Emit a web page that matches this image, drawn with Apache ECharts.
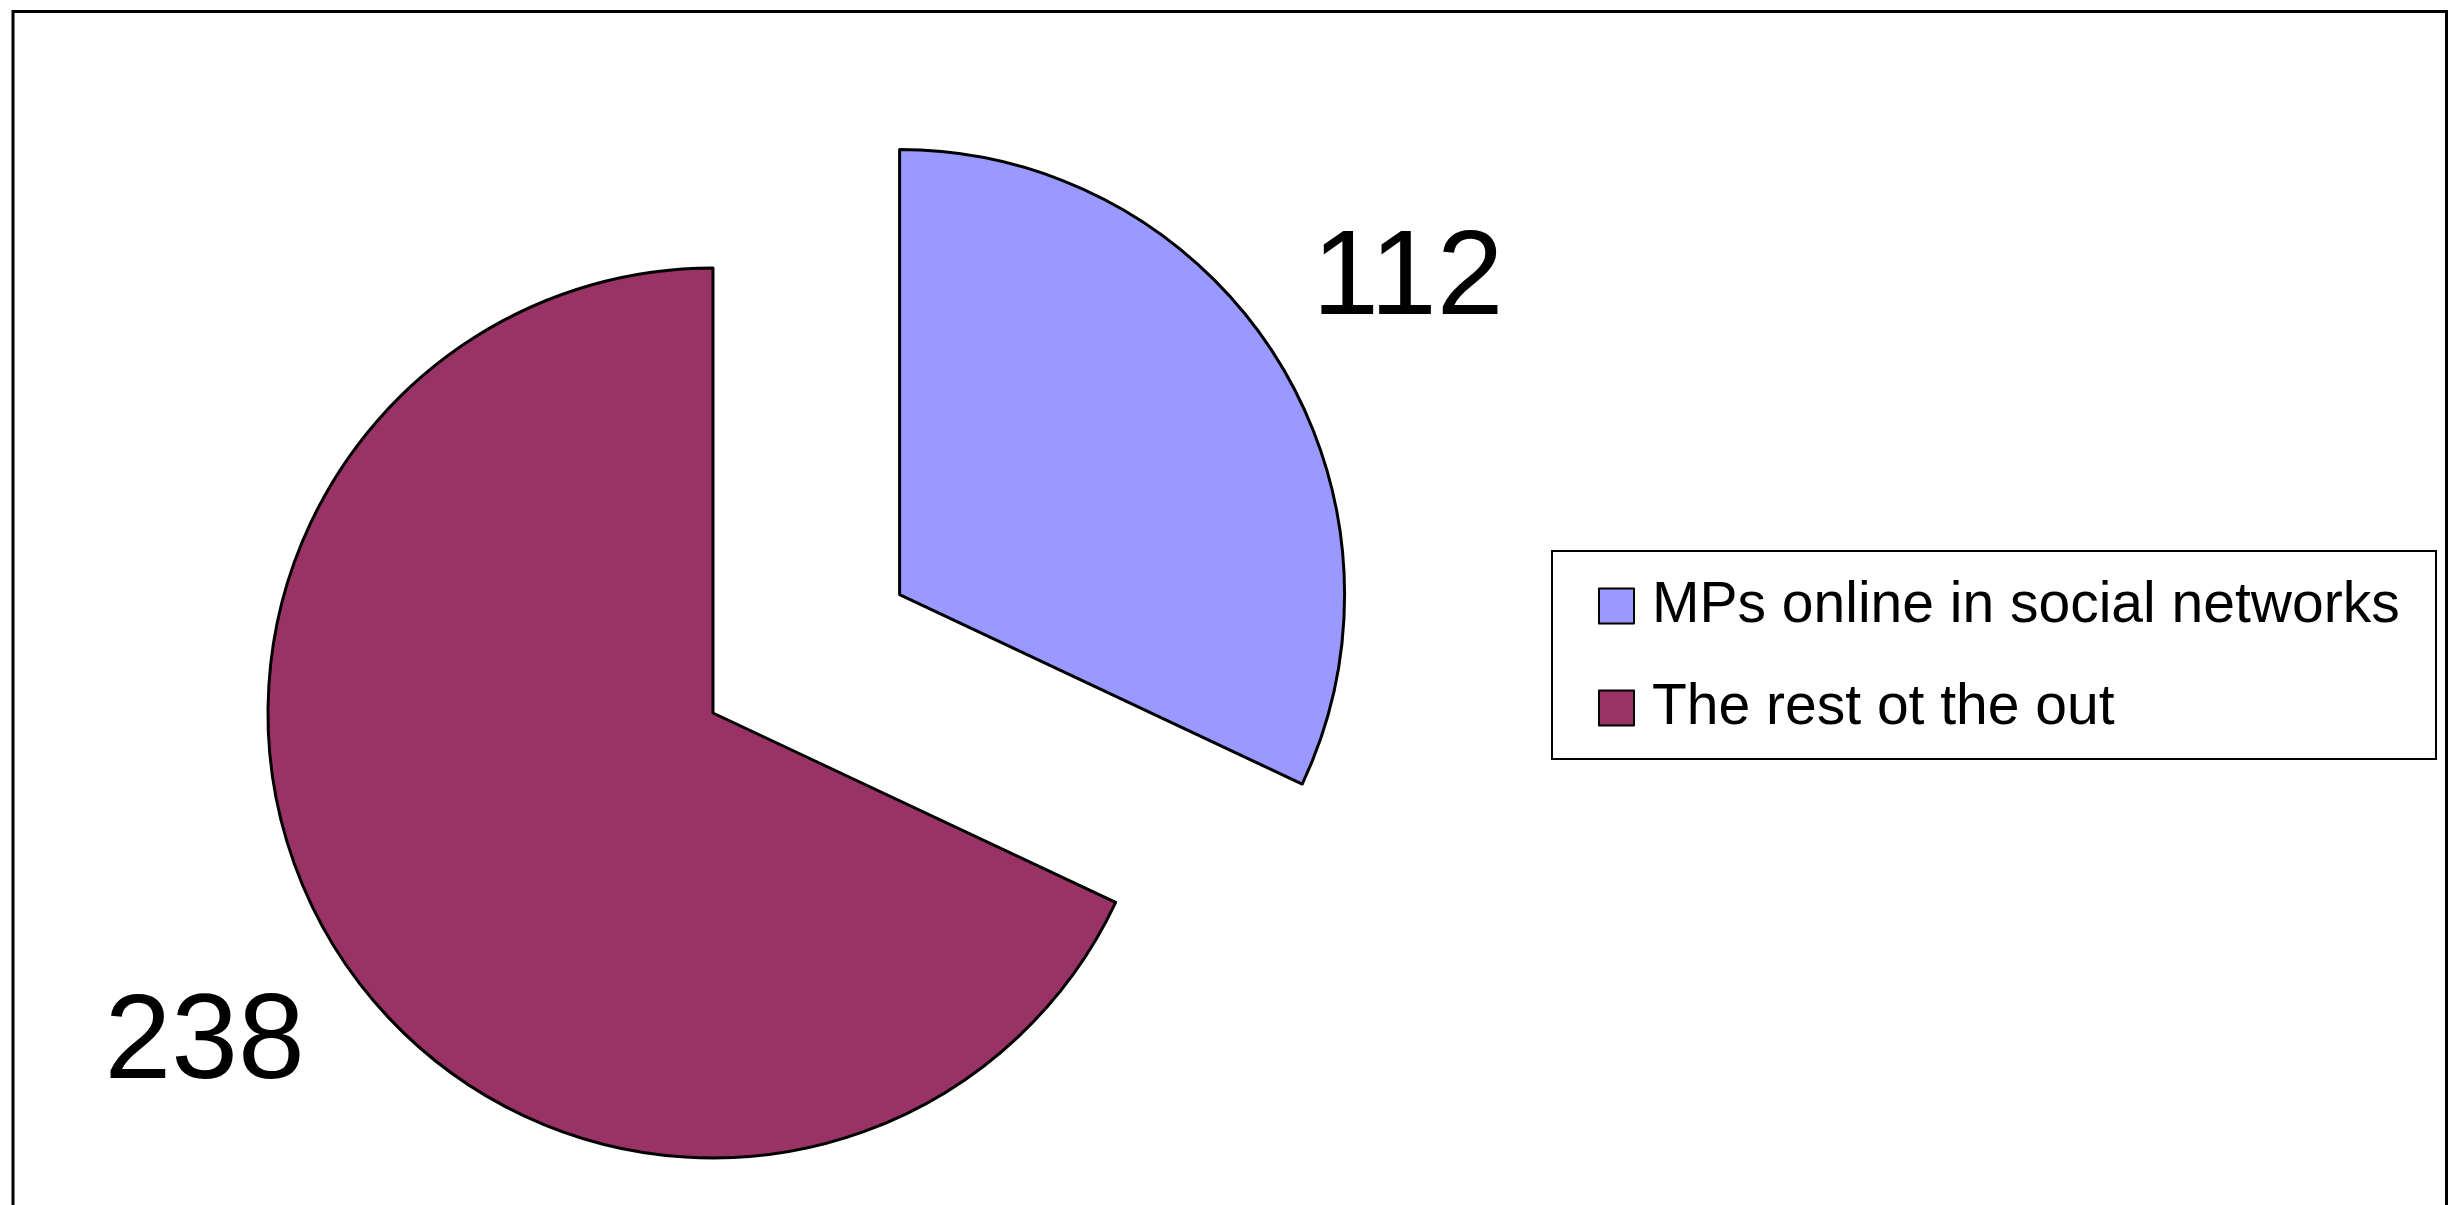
<!DOCTYPE html>
<html>
<head>
<meta charset="utf-8">
<title>MPs online in social networks</title>
<script src="https://cdn.jsdelivr.net/npm/echarts@6/dist/echarts.min.js"></script>
<style>
  html, body { margin: 0; padding: 0; background: #ffffff; }
  #chart { width: 2457px; height: 1205px; }
</style>
</head>
<body>
<div id="chart"></div>
<script>
// Categories and counts
const categories = ['MPs online in social networks', 'The rest ot the out'];
const counts = [112, 238];
const colors = ['#9999FF', '#993366'];

// Pie geometry
const pieCenter = [713, 713];
const pieRadius = 445;
const explodeOffset = 221;
const labelReach = 157;   // how far past the rim the value labels sit

const chart = echarts.init(document.getElementById('chart'), null, { renderer: 'canvas' });

chart.setOption({
  animation: false,
  backgroundColor: '#ffffff',
  graphic: [{
    type: 'rect',
    shape: { x: 13, y: 11.5, width: 2433.5, height: 1300 },
    style: { fill: 'none', stroke: '#000000', lineWidth: 3 },
    silent: true,
    z: -1
  }],
  legend: {
    orient: 'vertical',
    left: 1552,
    top: 551,
    padding: [26.5, 36, 22.5, 46],
    itemGap: 45,
    itemWidth: 35,
    itemHeight: 35,
    icon: 'rect',
    borderColor: '#000000',
    borderWidth: 2,
    selectedMode: false,
    itemStyle: { borderColor: '#000000', borderWidth: 2 },
    textStyle: {
      fontFamily: '"Liberation Sans", Arial, sans-serif',
      fontSize: 57,
      lineHeight: 57,
      color: '#000000',
      width: 748,
      padding: [0, 0, 0, 13]
    },
    data: categories
  },
  series: [{
    type: 'pie',
    center: pieCenter,
    radius: pieRadius,
    startAngle: 90,
    clockwise: true,
    selectedMode: 'single',
    selectedOffset: explodeOffset,
    avoidLabelOverlap: false,
    emphasis: { disabled: true },
    itemStyle: { borderColor: '#000000', borderWidth: 3 },
    label: {
      show: true,
      position: 'outside',
      alignTo: 'none',
      distanceToLabelLine: 0,
      formatter: '{c}',
      fontFamily: '"Liberation Sans", Arial, sans-serif',
      fontSize: 120,
      lineHeight: 18,
      color: '#000000'
    },
    labelLine: { show: false, length: labelReach, length2: 0 },
    // a short line box hung from the anchor drops the digits' centre slightly below it
    labelLayout: { align: 'center', verticalAlign: 'top' },
    data: categories.map((name, i) => ({
      name: name,
      value: counts[i],
      selected: i === 0,
      itemStyle: { color: colors[i] }
    }))
  }]
});
</script>
</body>
</html>
